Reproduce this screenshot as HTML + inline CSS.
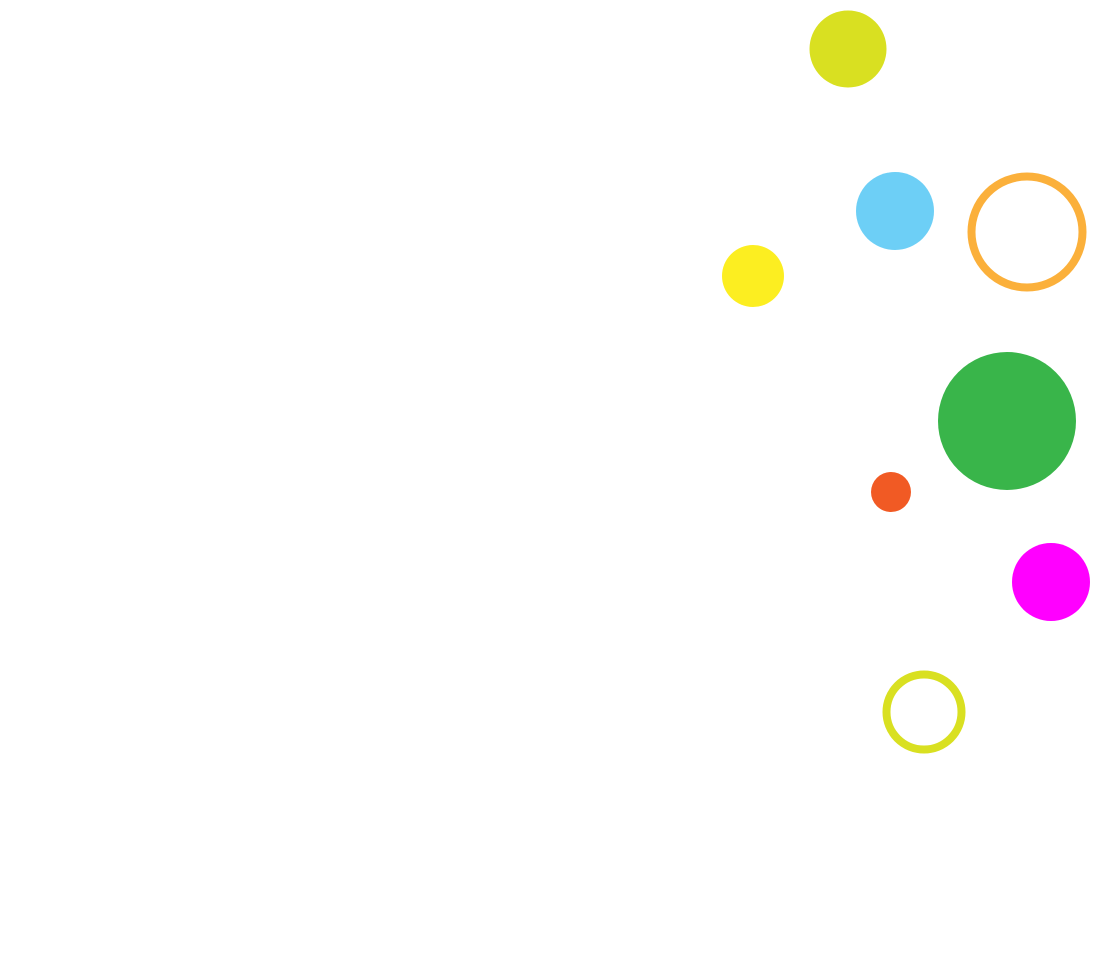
<!DOCTYPE html>
<html><head><meta charset="utf-8"><style>html,body{margin:0;padding:0;background:#fff;}svg{display:block;}</style></head>
<body>
<svg width="1093" height="961" viewBox="0 0 1093 961" xmlns="http://www.w3.org/2000/svg">
<rect width="1093" height="961" fill="#fff"/>
<circle cx="848" cy="49" r="38.5" fill="#d9e021"/>
<circle cx="895" cy="211" r="39" fill="#6dcff6"/>
<circle cx="1027" cy="232" r="55.5" fill="none" stroke="#fbb03b" stroke-width="8"/>
<circle cx="753" cy="276" r="31" fill="#fcee21"/>
<circle cx="1007" cy="421" r="69" fill="#39b54a"/>
<circle cx="891" cy="492" r="20" fill="#f15a24"/>
<circle cx="1051" cy="582" r="39" fill="#ff00ff"/>
<circle cx="924" cy="712" r="37.5" fill="none" stroke="#d9e021" stroke-width="8"/>
</svg>
</body></html>
